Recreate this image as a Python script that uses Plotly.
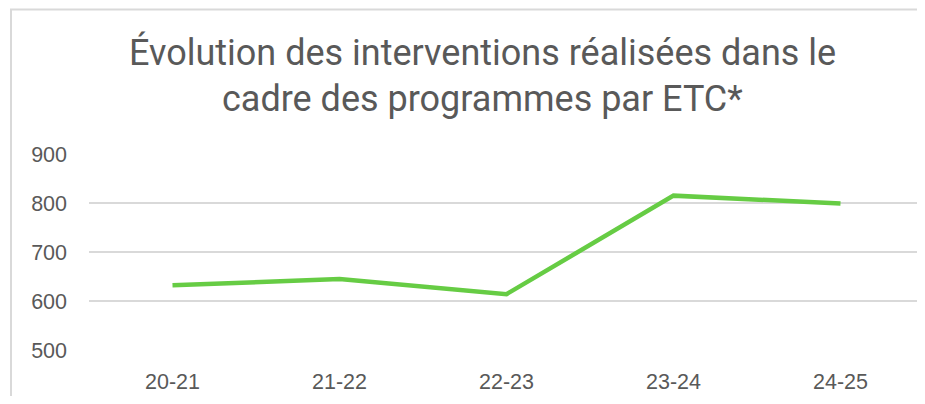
import plotly.graph_objects as go

categories = ["20-21", "21-22", "22-23", "23-24", "24-25"]
values = [632, 645, 614, 815, 799]
y_ticks = [500, 600, 700, 800, 900]
title_lines = ["Évolution des interventions réalisées dans le", "cadre des programmes par ETC*"]

OFF = 8  # page body margin
W, H = 925 - 2 * OFF, 404 - 2 * OFF
L, R, T = 89 - OFF, 0, 154 - OFF
B = H - (350 - OFF)
pw = W - L - R
ph = H - T - B

def px_x(x):
    return (x - OFF - L) / pw

def px_y(y):
    return (H - B - (y - OFF)) / ph

# category slots: reference spacing ~167px; the plot area runs past the visible edge
n = len(categories)
slot = 167.0
x_right = (OFF + W - (89 + slot * n)) / slot

fig = go.Figure()
fig.add_trace(go.Scatter(
    x=categories, y=values, mode="lines",
    line=dict(color="#66CC44", width=4.5),
    hoverinfo="x+y", showlegend=False,
))

fig.update_layout(
    width=W, height=H,
    margin=dict(l=L, r=R, t=T, b=B),
    paper_bgcolor="white", plot_bgcolor="white",
    font=dict(family="Liberation Sans, Arial, sans-serif", color="#595959"),
    xaxis=dict(
        showgrid=False, zeroline=False, showline=False,
        tickfont=dict(size=21.5, color="#595959"),
        ticklabelstandoff=16,
        range=[-0.5, n - 0.5 + x_right],
        fixedrange=True, automargin=False,
    ),
    yaxis=dict(
        range=[500, 900], tickvals=y_ticks,
        showgrid=True, gridcolor="#d9d9d9", gridwidth=1.5,
        zeroline=False, showline=False,
        tickfont=dict(size=21.5, color="#595959"),
        ticklabelstandoff=21,
        fixedrange=True, automargin=False,
    ),
)

fig.add_shape(type="rect", xref="paper", yref="paper",
              x0=px_x(11), x1=px_x(1100), y0=px_y(600), y1=px_y(9.5),
              line=dict(color="#d9d9d9", width=2), fillcolor="rgba(0,0,0,0)", layer="below")

for line, yc in zip(title_lines, [53, 99]):
    fig.add_annotation(text=line, xref="paper", yref="paper",
                       x=px_x(482), y=px_y(yc), xanchor="center", yanchor="middle",
                       showarrow=False,
                       font=dict(family="Roboto, sans-serif", size=36, color="#595959"))

fig.write_html("out.html")
